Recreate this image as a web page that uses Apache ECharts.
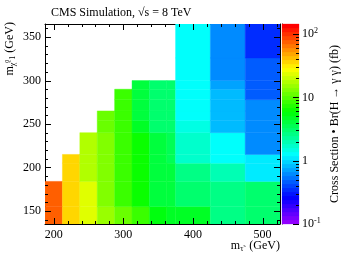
<!DOCTYPE html>
<html><head><meta charset="utf-8">
<script src="https://cdn.jsdelivr.net/npm/echarts@6/dist/echarts.min.js"></script>
<style>html,body{margin:0;padding:0;background:#fff}#c{width:342px;height:254px}</style>
</head><body><div id="c"></div>
<script>
// m_stau bin edges (GeV) and m_chi bin edges (GeV)
const xEdges = [187.5, 212.5, 237.5, 262.5, 287.5, 312.5, 337.5, 362.5, 375, 425, 475, 525];
const yEdges = [135, 155, 184, 205, 215, 240, 254, 265, 278, 290, 300, 326, 365];
// cross section x BR (fb), one array per m_stau column, bottom -> top
const xs200 = [70, 70];
const xs225 = [38, 38, 38, 38];
const xs250 = [24, 24, 18, 18, 18];
const xs275 = [16, 14, 14, 14, 13, 12, 12];
const xs300 = [12, 8.5, 8.5, 8.5, 8.5, 8, 8, 8, 8];
const xs325 = [9, 6.2, 6.2, 6, 6, 4.5, 4.3, 4.2, 4.2, 4.2];
const xs350 = [5.5, 4.2, 4.2, 4.0, 4.0, 3.2, 3, 3, 3, 3];
const xs369 = [5, 3.8, 3.8, 3.5, 3.5, 3, 2.9, 2.9, 2.9, 2.9];
const xs400 = [4.5, 2.9, 2.5, 1.8, 1.8, 1.5, 1.3, 1.3, 1.3, 1.3, 1.3, 1.3];
const xs450 = [2.7, 2.5, 2.0, 1.2, 1.34, 0.8, 0.8, 0.8, 0.8, 0.7, 0.62, 0.65];
const xs500 = [2.9, 2.9, 1.15, 1.15, 0.65, 0.62, 0.59, 0.59, 0.43, 0.43, 0.43, 0.35];
const columns = [xs200, xs225, xs250, xs275, xs300, xs325, xs350, xs369, xs400, xs450, xs500];
// tick values
const xMajorTicks = [200, 300, 400, 500];
const xMinorTicks = [220, 240, 260, 280, 320, 340, 360, 380, 420, 440, 460, 480, 520];
const yMajorTicks = [150, 200, 250, 300, 350];
const yMinorTicks = [140, 160, 170, 180, 190, 210, 220, 230, 240, 260, 270, 280, 290, 310, 320, 330, 340, 360];
// colour scale
const zMin = 0.1, zMax = 144;
const zMajorTicks = [0.1, 1, 10, 100];
const zMinorTicks = [0.2,0.3,0.4,0.5,0.6,0.7,0.8,0.9,2,3,4,5,6,7,8,9,20,30,40,50,60,70,80,90];
const NCOL = 50;

function hslHex(h) {
  const s = 1, l = 0.5;
  const c = (1 - Math.abs(2*l - 1)) * s, hp = h / 60, x = c * (1 - Math.abs(hp % 2 - 1));
  let r=0,g=0,b=0;
  if (hp < 1) {r=c;g=x;} else if (hp < 2) {r=x;g=c;} else if (hp < 3) {g=c;b=x;}
  else if (hp < 4) {g=x;b=c;} else if (hp < 5) {r=x;b=c;} else {r=c;b=x;}
  const m = l - c/2;
  const f = v => Math.round((v+m)*255).toString(16).padStart(2,'0');
  return '#' + f(r) + f(g) + f(b);
}
const palette = Array.from({length: NCOL}, (_, i) => hslHex(280 - (i+1)*280/NCOL));
const lz0 = Math.log10(zMin), lz1 = Math.log10(zMax);
function colorOf(v) {
  let i = Math.floor((Math.log10(v) - lz0) / (lz1 - lz0) * NCOL);
  i = Math.max(0, Math.min(NCOL-1, i));
  return palette[i];
}
const cells = [];
columns.forEach((col, i) => col.forEach((v, j) => {
  if (v != null) cells.push([xEdges[i], xEdges[i+1], yEdges[j], yEdges[j+1], v]);
}));
const stripes = palette.map((c, i) => [Math.pow(10, lz0 + i*(lz1-lz0)/NCOL), Math.pow(10, lz0 + (i+1)*(lz1-lz0)/NCOL), i]);
const X0 = xEdges[0], X1 = xEdges[xEdges.length-1], Y0 = yEdges[0], Y1 = yEdges[yEdges.length-1];
const xTickData = xMajorTicks.map(v => [v, Y0, 6]).concat(xMinorTicks.map(v => [v, Y0, 3]));
const yTickData = yMajorTicks.map(v => [X0, v, 6]).concat(yMinorTicks.map(v => [X0, v, 3]));
const zTickData = zMajorTicks.map(v => [1, v, 6]).concat(zMinorTicks.map(v => [1, v, 3]));

const FONT = 'Liberation Serif';
const TICK = '#000';
const lab = {fontFamily: FONT, fontSize: 12, color: '#000'};
function axis(pos, min, max, iv, labels) {
  return {type: 'value', gridIndex: 0, position: pos, min: min, max: max, minInterval: iv, maxInterval: iv,
    axisLine: {show: true, onZero: false, lineStyle: {color: '#000', width: 1}},
    axisTick: {show: false},
    axisLabel: {show: labels, margin: labels && (pos === 'bottom') ? 5 : 4, showMinLabel: false, showMaxLabel: false, ...lab},
    splitLine: {show: false}};
}
const zLabel = {0.1: '10{s|-1}', 1: '1', 10: '10', 100: '10{s|2}'};

const chart = echarts.init(document.getElementById('c'), null, {renderer: 'canvas'});
chart.setOption({
  animation: false,
  backgroundColor: '#fff',
  title: {text: 'CMS Simulation, \u221As = 8 TeV', left: 46, top: 2,
    textStyle: {fontFamily: FONT, fontSize: 12, fontWeight: 'normal', color: '#000'}},
  grid: [
    {left: 45, top: 24, width: 235, height: 200},
    {left: 282, top: 24, width: 19, height: 200}
  ],
  xAxis: [axis('bottom', X0, X1, 100, true), axis('top', X0, X1, 100, false),
    {type: 'value', gridIndex: 1, min: 0, max: 1, show: false}],
  yAxis: [axis('left', Y0, Y1, 50, true), axis('right', Y0, Y1, 50, false),
    {type: 'log', gridIndex: 1, position: 'right', min: zMin, max: zMax, logBase: 10,
      axisLine: {show: true, lineStyle: {color: '#000'}},
      axisTick: {show: false},
      axisLabel: {margin: 3, showMaxLabel: false, ...lab, formatter: v => zLabel[+v.toPrecision(3)] || '',
        rich: {s: {fontFamily: FONT, fontSize: 8, color: '#000', verticalAlign: 'top', padding: [0,0,7,0]}}},
      splitLine: {show: false},
      name: 'Cross Section \u2022 Br(H \u2192 \u03B3 \u03B3) (fb)', nameLocation: 'middle', nameGap: 30,
      nameTextStyle: {fontFamily: FONT, fontSize: 12, color: '#000'}}],
  series: [
    {type: 'custom', xAxisIndex: 0, yAxisIndex: 0, data: cells, clip: true, z: 1,
      renderItem(params, api) {
        const p0 = api.coord([api.value(0), api.value(2)]);
        const p1 = api.coord([api.value(1), api.value(3)]);
        const c = colorOf(api.value(4));
        return {type: 'rect', shape: {x: p0[0], y: p1[1], width: p1[0]-p0[0], height: p0[1]-p1[1]},
          style: {fill: c, stroke: c, lineWidth: 0.4}};
      }},
    {type: 'custom', xAxisIndex: 0, yAxisIndex: 0, data: xTickData, clip: false, z: 20, silent: true,
      renderItem(params, api) {
        const cs = params.coordSys, L = api.value(2);
        const x = Math.round(api.coord([api.value(0), api.value(1)])[0]) + 0.5;
        return {type: 'group', children: [
          {type: 'line', shape: {x1: x, y1: cs.y + cs.height, x2: x, y2: cs.y + cs.height - L}, style: {stroke: TICK, lineWidth: 1}},
          {type: 'line', shape: {x1: x, y1: cs.y, x2: x, y2: cs.y + L}, style: {stroke: TICK, lineWidth: 1}}]};
      }},
    {type: 'custom', xAxisIndex: 0, yAxisIndex: 0, data: yTickData, clip: false, z: 20, silent: true,
      renderItem(params, api) {
        const cs = params.coordSys, L = api.value(2);
        const y = Math.round(api.coord([api.value(0), api.value(1)])[1]) + 0.5;
        return {type: 'group', children: [
          {type: 'line', shape: {x1: cs.x, y1: y, x2: cs.x + L, y2: y}, style: {stroke: TICK, lineWidth: 1}},
          {type: 'line', shape: {x1: cs.x + cs.width, y1: y, x2: cs.x + cs.width - L, y2: y}, style: {stroke: TICK, lineWidth: 1}}]};
      }},
    {type: 'custom', xAxisIndex: 2, yAxisIndex: 2, data: stripes, z: 1,
      renderItem(params, api) {
        const p0 = api.coord([0, api.value(0)]);
        const p1 = api.coord([1, api.value(1)]);
        const c = palette[api.value(2)];
        return {type: 'rect', shape: {x: p0[0], y: p1[1], width: p1[0]-p0[0], height: p0[1]-p1[1]},
          style: {fill: c, stroke: c, lineWidth: 0.3}};
      }},
    {type: 'custom', xAxisIndex: 2, yAxisIndex: 2, data: zTickData, clip: false, z: 20, silent: true,
      renderItem(params, api) {
        const p = api.coord([api.value(0), api.value(1)]);
        const y = Math.round(p[1]) + 0.5, L = api.value(2);
        return {type: 'line', shape: {x1: p[0] - L, y1: y, x2: p[0], y2: y}, style: {stroke: TICK, lineWidth: 1}};
      }}
  ],
  graphic: [
    {type: 'text', x: 280, y: 246, style: {text: 'm{s|\u03C4\u0303}  (GeV)', align: 'right', verticalAlign: 'middle',
      font: '12px "Liberation Serif"', fill: '#000',
      rich: {s: {font: '8px "Liberation Serif"', fill: '#000', padding: [6,0,0,0]}}}},
    {type: 'text', x: 10, y: 22, rotation: Math.PI/2, style: {text: 'm{s|\u03C7\u0303}{t|0}{s|1} (GeV)', align: 'right', verticalAlign: 'middle',
      font: '12px "Liberation Serif"', fill: '#000',
      rich: {s: {font: '8px "Liberation Serif"', fill: '#000', padding: [6,0,0,0]},
             t: {font: '6px "Liberation Serif"', fill: '#000', padding: [0,0,6,0]}}}}
  ]
});
</script></body></html>
